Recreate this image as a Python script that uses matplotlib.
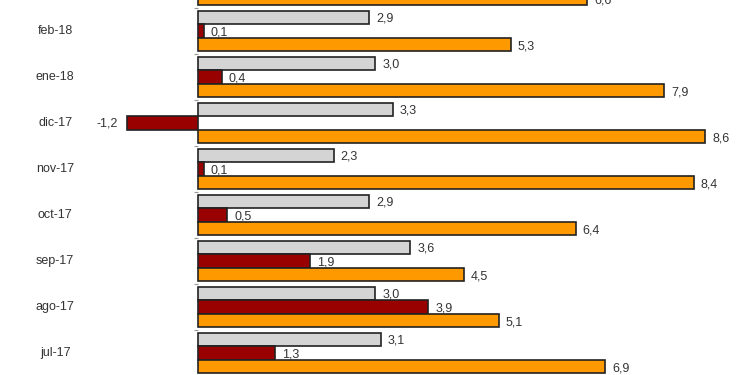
import numpy as np
import matplotlib
matplotlib.use("Agg")
from matplotlib import pyplot as plt

plt.rcParams['font.family'] = ['Liberation Sans', 'DejaVu Sans']

# months from top to bottom (first and last are cut off by the frame)
months = ["mar-18", "feb-18", "ene-18", "dic-17", "nov-17", "oct-17", "sep-17", "ago-17", "jul-17"]
gray_vals = [np.nan, 2.9, 3.0, 3.3, 2.3, 2.9, 3.6, 3.0, 3.1]
red_vals = [np.nan, 0.1, 0.4, -1.2, 0.1, 0.5, 1.9, 3.9, 1.3]
orange_vals = [6.6, 5.3, 7.9, 8.6, 8.4, 6.4, 4.5, 5.1, 6.9]

series = [
    (gray_vals, "#d4d4d4", -0.30),
    (red_vals, "#990000", 0.0),
    (orange_vals, "#ff9900", 0.30),
]

fig = plt.figure(figsize=(7.5, 3.75), dpi=100)
ax = fig.add_axes([0, 0, 1, 1])

ypos = np.arange(len(months))
bar_h = 0.29

for vals, col, off in series:
    v = np.array(vals, dtype=float)
    ok = ~np.isnan(v)
    ax.barh((ypos + off)[ok], v[ok], height=bar_h, color=col,
            edgecolor="#222222", linewidth=1.2, zorder=2)
    for y, val in zip((ypos + off)[ok], v[ok]):
        txt = "{:.1f}".format(val).replace(".", ",")
        if val < 0:
            ax.text(val - 0.15, y, txt, ha="right", va="center", fontsize=9, color="#333333")
        else:
            ax.text(val + 0.12, y + 0.03, txt, ha="left", va="center", fontsize=9, color="#333333")

y_top = 1 - 31 / 46
for y, m in zip(ypos, months):
    if y < y_top:
        continue  # label lies above the visible frame
    ax.text(-2.42, y, m, ha="center", va="center", fontsize=9, color="#333333")

for s in ax.spines.values():
    s.set_visible(False)
ax.spines['left'].set_position(('data', 0))
ax.set_xticks([])
ax.set_yticks(np.arange(-0.5, len(months) + 0.5, 1.0))
ax.set_yticklabels([])
ax.tick_params(axis="y", length=3, width=0.8, color="#999999", direction="out")

px = 59.0
ax.set_xlim(-198 / px, (750 - 198) / px)
ax.set_ylim(y_top + 375 / 46, y_top)

fig.savefig("out.png", dpi=100)
